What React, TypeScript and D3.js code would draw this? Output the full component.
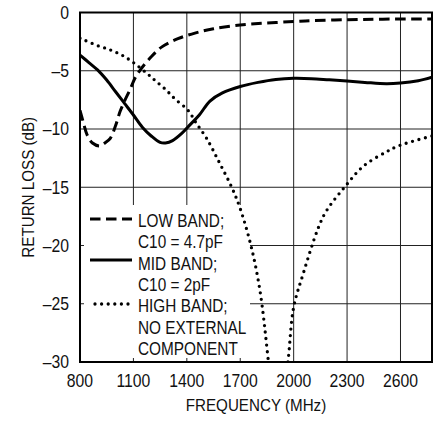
import React from "react";
import * as d3 from "d3";

const xTicks = [800, 1100, 1400, 1700, 2000, 2300, 2600];
const yTicks = [0, -5, -10, -15, -20, -25, -30];

const lowBandFreq = [800, 820, 840, 870, 910, 940, 970, 1000, 1025, 1050, 1080, 1110, 1140, 1200, 1260, 1350, 1450, 1550, 1700, 1850, 2000, 2100, 2300, 2500, 2777];
const lowBandDb = [-8.4, -9.5, -10.5, -11.2, -11.45, -11.2, -10.8, -9.7, -8.5, -7.6, -6.65, -5.6, -4.9, -3.8, -2.95, -2.25, -1.75, -1.4, -1.07, -0.9, -0.78, -0.7, -0.62, -0.57, -0.55];

const midBandFreq = [800, 850, 900, 950, 1000, 1050, 1100, 1150, 1200, 1250, 1280, 1320, 1370, 1420, 1470, 1530, 1600, 1700, 1800, 1900, 2000, 2100, 2200, 2300, 2400, 2520, 2600, 2700, 2777];
const midBandDb = [-3.65, -4.3, -4.95, -5.8, -6.8, -7.8, -8.8, -9.85, -10.6, -11.15, -11.2, -11.0, -10.4, -9.6, -8.8, -7.6, -6.9, -6.35, -6.0, -5.75, -5.65, -5.68, -5.78, -5.88, -6.0, -6.12, -6.06, -5.85, -5.55];

const highBandFreq = [800, 900, 968, 1040, 1100, 1174, 1219, 1280, 1332, 1407, 1453, 1511, 1580, 1652, 1699, 1760, 1810, 1857, 1910, 1970, 2000, 2054, 2138, 2185, 2288, 2391, 2522, 2597, 2777];
const highBandDb = [-2.2, -2.85, -3.2, -3.7, -4.3, -5.2, -5.8, -6.6, -7.4, -8.4, -9.5, -10.8, -12.8, -15.0, -16.8, -20.0, -23.8, -29.8, -38, -29.7, -25.3, -22.4, -18.5, -17.0, -14.95, -13.2, -11.95, -11.4, -10.6];

const legendLines = [
  "LOW BAND;",
  "C10 = 4.7pF",
  "MID BAND;",
  "C10 = 2pF",
  "HIGH BAND;",
  "NO EXTERNAL",
  "COMPONENT",
];

const FONT = "'Liberation Sans', Arial, Helvetica, sans-serif";

function T(props: { x: number; y: number; sx: number; size: number; anchor?: string; rotate?: number; children: React.ReactNode }) {
  const { x, y, sx, size, anchor = "start", rotate = 0, children } = props;
  return (
    <g transform={`translate(${x},${y}) rotate(${rotate}) scale(${sx},1)`}>
      <text x={0} y={0} textAnchor={anchor} fontSize={size} fill="#111">
        {children}
      </text>
    </g>
  );
}

export default function App() {
  const left = 80, right = 432, top = 12.5, bottom = 362;
  const x = d3.scaleLinear().domain([800, 2777]).range([left, right]);
  const y = d3.scaleLinear().domain([0, -30]).range([top, bottom]);

  const line = (fs: number[], ds: number[]) =>
    d3
      .line<number>()
      .x((_, i) => x(fs[i]))
      .y((d) => y(d))
      .curve(d3.curveCatmullRom.alpha(0.5))(ds) || "";

  const legX0 = 80, legX1 = 250, legY0 = 205;
  const lineH = 21.3;
  const baseY = 227;

  return (
    <svg width={433} height={421} style={{ display: "block", position: "absolute", left: 0, top: 0 }} fontFamily={FONT}>
      <defs>
        <clipPath id="plot">
          <rect x={left} y={top} width={right - left} height={bottom - top} />
        </clipPath>
      </defs>
      <rect x={0} y={0} width={433} height={421} fill="#fff" />
      {xTicks.slice(1).map((t) => (
        <line key={"gx" + t} x1={x(t)} x2={x(t)} y1={top} y2={bottom} stroke="#222" strokeWidth={1} />
      ))}
      {yTicks.slice(1, -1).map((t) => (
        <line key={"gy" + t} x1={left} x2={right} y1={y(t)} y2={y(t)} stroke="#222" strokeWidth={1} />
      ))}
      <rect x={legX0} y={legY0} width={legX1 - legX0} height={bottom - legY0} fill="#fff" />
      {xTicks.slice(1).filter((t) => x(t) < legX1).map((t) => (
        <line key={"tx" + t} x1={x(t)} x2={x(t)} y1={bottom - 4} y2={bottom} stroke="#222" strokeWidth={1} />
      ))}
      {yTicks.slice(1, -1).filter((t) => y(t) > legY0).map((t) => (
        <line key={"ty" + t} x1={left} x2={left + 4} y1={y(t)} y2={y(t)} stroke="#222" strokeWidth={1} />
      ))}
      <g clipPath="url(#plot)" fill="none" stroke="#000">
        <path d={line(lowBandFreq, lowBandDb)} strokeWidth={3} strokeDasharray="10.5 5.5" />
        <path d={line(midBandFreq, midBandDb)} strokeWidth={3} />
        <path d={line(highBandFreq, highBandDb)} strokeWidth={3.3} strokeDasharray="0 6.6" strokeLinecap="round" />
      </g>
      <rect x={left} y={top} width={right - left} height={bottom - top} fill="none" stroke="#000" strokeWidth={2} />
      {xTicks.map((t) => (
        <T key={"lx" + t} x={x(t)} y={387} sx={0.9} size={17.5} anchor="middle">
          {t}
        </T>
      ))}
      {yTicks.map((t) => (
        <T key={"ly" + t} x={69} y={y(t) + 6.3} sx={0.9} size={17.5} anchor="end">
          {t === 0 ? "0" : "\u2013" + Math.abs(t)}
        </T>
      ))}
      <T x={(left + right) / 2} y={411} sx={0.92} size={16.5} anchor="middle">
        FREQUENCY (MHz)
      </T>
      <T x={34} y={(top + bottom) / 2} sx={0.92} size={16.5} anchor="middle" rotate={-90}>
        RETURN LOSS (dB)
      </T>
      <g stroke="#000" fill="none">
        <line x1={90} x2={132} y1={219} y2={219} strokeWidth={3} strokeDasharray="10.5 5.5" />
        <line x1={90} x2={132} y1={260} y2={260} strokeWidth={3} />
        <line x1={95} x2={132} y1={304} y2={304} strokeWidth={3.3} strokeDasharray="0 6.6" strokeLinecap="round" />
      </g>
      {legendLines.map((s, i) => (
        <T key={"lg" + i} x={138} y={baseY + i * lineH} sx={0.83} size={18.5}>
          {s}
        </T>
      ))}
    </svg>
  );
}
